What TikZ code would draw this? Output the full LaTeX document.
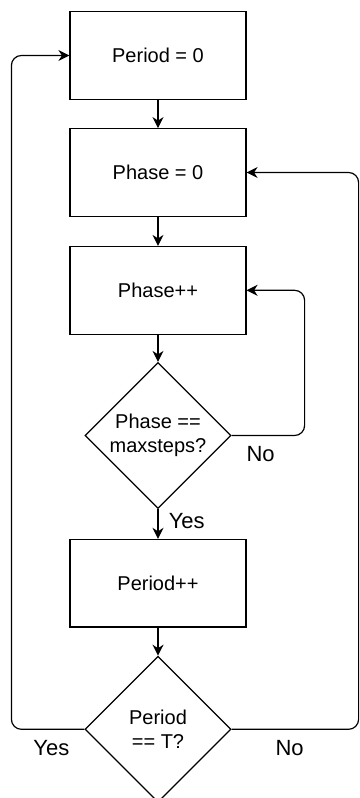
\documentclass[tikz,border=0pt]{standalone}
\usepackage{fontspec}
\setmainfont{Liberation Sans}
\usetikzlibrary{shapes.geometric,arrows.meta,calc}

\tikzset{
  stepbox/.style={draw, line width=1.2pt, rectangle, minimum width=176pt, minimum height=87.6pt,
    inner sep=0pt, font=\fontsize{20}{24}\selectfont, align=center},
  decision/.style={draw, line width=1.2pt, diamond, minimum width=146pt, minimum height=146pt,
    inner sep=0pt, font=\fontsize{20}{24}\selectfont, align=center},
  flow/.style={draw, line width=1.2pt, -{Stealth[length=11pt, width=11pt, inset=3.5pt]}},
  lbl/.style={font=\fontsize{22}{26}\selectfont, inner sep=0pt, anchor=base},
}

\begin{document}
\begin{tikzpicture}[x=1pt, y=-1pt]
  \useasboundingbox (0,0) rectangle (359,798);

  % main column
  \node[stepbox] (b1) at (158,55.5)  {Period = 0};
  \node[stepbox] (b2) at (158,172.5) {Phase = 0};
  \node[stepbox] (b3) at (158,290.3) {Phase++};
  \node[decision] (d1) at (158,435.5) {Phase ==\\maxsteps?};
  \node[stepbox] (b4) at (158,583.2) {Period++};
  \node[decision] (d2) at (158,729.3) {Period\\== T?};

  % straight connectors
  \draw[flow] (b1) -- (b2);
  \draw[flow] (b2) -- (b3);
  \draw[flow] (b3) -- (d1);
  \draw[flow] (d1) -- (b4);
  \draw[flow] (b4) -- (d2);

  % loop back to Phase++
  \draw[flow, rounded corners=10pt] (d1.east) -| ([xshift=58pt]b3.east) -- (b3.east);
  % loop back to Phase = 0
  \draw[flow, rounded corners=10pt] (d2.east) -| ([xshift=112pt]b2.east) -- (b2.east);
  % loop back to Period = 0
  \draw[flow, rounded corners=10pt] (d2.west) -| ([xshift=-58pt]b1.west) -- (b1.west);

  % branch labels
  \node[lbl] (no1)  at ($(d1.east)+(29,25.5)$)   {No};
  \node[lbl] (yes1) at ($(d1.south)+(28.7,19)$)  {Yes};
  \node[lbl] (yes2) at ($(d2.west)+(-33,25.7)$)  {Yes};
  \node[lbl] (no2)  at ($(d2.east)+(58,25.7)$)   {No};
\end{tikzpicture}
\end{document}
